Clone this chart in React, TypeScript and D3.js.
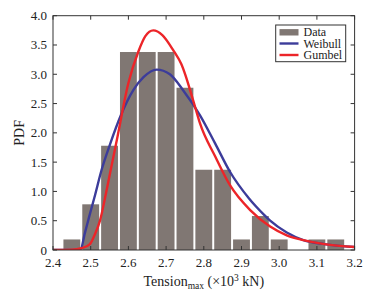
import React from 'react';
import * as d3 from 'd3';

const binCenters = [2.45, 2.5, 2.55, 2.6, 2.65, 2.7, 2.75, 2.8, 2.85, 2.9, 2.95, 3.0, 3.05, 3.1, 3.15];
const densities = [0.18, 0.78, 1.78, 3.38, 3.38, 3.38, 2.77, 1.37, 1.37, 0.18, 0.58, 0.18, 0, 0.18, 0.18];
const binWidth = 0.05;

const weibullX = [2.4, 2.472, 2.485, 2.496, 2.51, 2.529, 2.551, 2.58, 2.613, 2.64, 2.675, 2.71, 2.746, 2.79, 2.83, 2.869, 2.92, 2.96, 2.976, 3.02, 3.064, 3.12, 3.2];
const weibullY = [0, 0, 0.3, 0.57, 0.9, 1.37, 1.8, 2.3, 2.73, 2.95, 3.08, 3.0, 2.72, 2.3, 1.82, 1.34, 0.88, 0.6, 0.5, 0.3, 0.17, 0.1, 0.05];

const gumbelX = [2.4, 2.45, 2.475, 2.498, 2.51, 2.525, 2.54, 2.551, 2.57, 2.6, 2.626, 2.645, 2.666, 2.69, 2.72, 2.74, 2.777, 2.79, 2.83, 2.869, 2.923, 2.976, 3.02, 3.064, 3.12, 3.2];
const gumbelY = [0, 0.005, 0.03, 0.1, 0.25, 0.51, 0.95, 1.3, 1.9, 2.85, 3.38, 3.65, 3.75, 3.67, 3.4, 3.18, 2.44, 2.16, 1.6, 1.11, 0.68, 0.4, 0.25, 0.17, 0.1, 0.05];

const xTicks = [2.4, 2.5, 2.6, 2.7, 2.8, 2.9, 3.0, 3.1, 3.2];
const yTicks = [0, 0.5, 1.0, 1.5, 2.0, 2.5, 3.0, 3.5, 4.0];
const legendLabels = ['Data', 'Weibull', 'Gumbel'];

const W = 372, H = 297;
const L = 53, R = 354.6, T = 15.7, B = 250;
const barColor = '#807773';
const blue = '#3c3c9a';
const red = '#ec2529';
const axisColor = '#333';
const font = '"Liberation Serif", "Times New Roman", serif';

export default function App() {
  const x = d3.scaleLinear().domain([2.4, 3.2]).range([L, R]);
  const y = d3.scaleLinear().domain([0, 4]).range([B, T]);
  const line = d3.line<[number, number]>()
    .x(d => x(d[0]))
    .y(d => y(d[1]))
    .curve(d3.curveMonotoneX);
  const wPts = weibullX.map((v, i) => [v, weibullY[i]] as [number, number]);
  const gPts = gumbelX.map((v, i) => [v, gumbelY[i]] as [number, number]);
  const tick = 4;
  const legendRows = [32.3, 43.5, 55];
  return (
    <svg width={W} height={H} style={{ position: 'absolute', left: 0, top: 0, background: '#fff' }} fontFamily={font}>
      <defs>
        <clipPath id="plot">
          <rect x={L} y={T} width={R - L} height={B - T} />
        </clipPath>
      </defs>
      <g>
        {binCenters.map((c, i) => densities[i] > 0 && (
          <rect key={i}
            x={x(c - binWidth / 2) + 1}
            width={x(c + binWidth / 2) - x(c - binWidth / 2) - 2}
            y={y(densities[i])}
            height={B - y(densities[i])}
            fill={barColor} />
        ))}
      </g>
      <g clipPath="url(#plot)">
        <path d={line(wPts) || ''} fill="none" stroke={blue} strokeWidth={2.4} />
        <path d={line(gPts) || ''} fill="none" stroke={red} strokeWidth={2.4} />
      </g>
      <rect x={L} y={T} width={R - L} height={B - T} fill="none" stroke={axisColor} strokeWidth={1} />
      {xTicks.map((t, i) => (
        <g key={'x' + i}>
          <line x1={x(t)} x2={x(t)} y1={B} y2={B - tick} stroke={axisColor} />
          <line x1={x(t)} x2={x(t)} y1={T} y2={T + tick} stroke={axisColor} />
          <text x={x(t)} y={B + 17} fontSize={13} textAnchor="middle" fill="#222">{t.toFixed(1)}</text>
        </g>
      ))}
      {yTicks.map((t, i) => (
        <g key={'y' + i}>
          <line x1={L} x2={L + tick} y1={y(t)} y2={y(t)} stroke={axisColor} />
          <line x1={R} x2={R - tick} y1={y(t)} y2={y(t)} stroke={axisColor} />
          <text x={L - 6} y={y(t) + 4.5} fontSize={13} textAnchor="end" fill="#222">{t === 0 ? '0' : t.toFixed(1)}</text>
        </g>
      ))}
      <text transform={`translate(24, ${(T + B) / 2}) rotate(-90)`} fontSize={14} textAnchor="middle" fill="#222">PDF</text>
      <text x={(L + R) / 2} y={286} fontSize={14} textAnchor="middle" fill="#222">
        Tension<tspan fontSize={9.5} dy={3}>max</tspan><tspan dy={-3}> (×10</tspan><tspan fontSize={9.5} dy={-5}>3</tspan><tspan dy={5}> kN)</tspan>
      </text>
      <g>
        <rect x={275.7} y={25} width={70} height={36.7} fill="#fff" stroke={axisColor} strokeWidth={1} />
        <rect x={279.5} y={legendRows[0] - 3.2} width={19} height={6.4} fill={barColor} />
        <line x1={279.5} x2={298.5} y1={legendRows[1]} y2={legendRows[1]} stroke={blue} strokeWidth={2.4} />
        <line x1={279.5} x2={298.5} y1={legendRows[2]} y2={legendRows[2]} stroke={red} strokeWidth={2.4} />
        {legendLabels.map((lab, i) => (
          <text key={lab} x={303.5} y={legendRows[i] + 4} fontSize={12} fill="#222">{lab}</text>
        ))}
      </g>
    </svg>
  );
}
